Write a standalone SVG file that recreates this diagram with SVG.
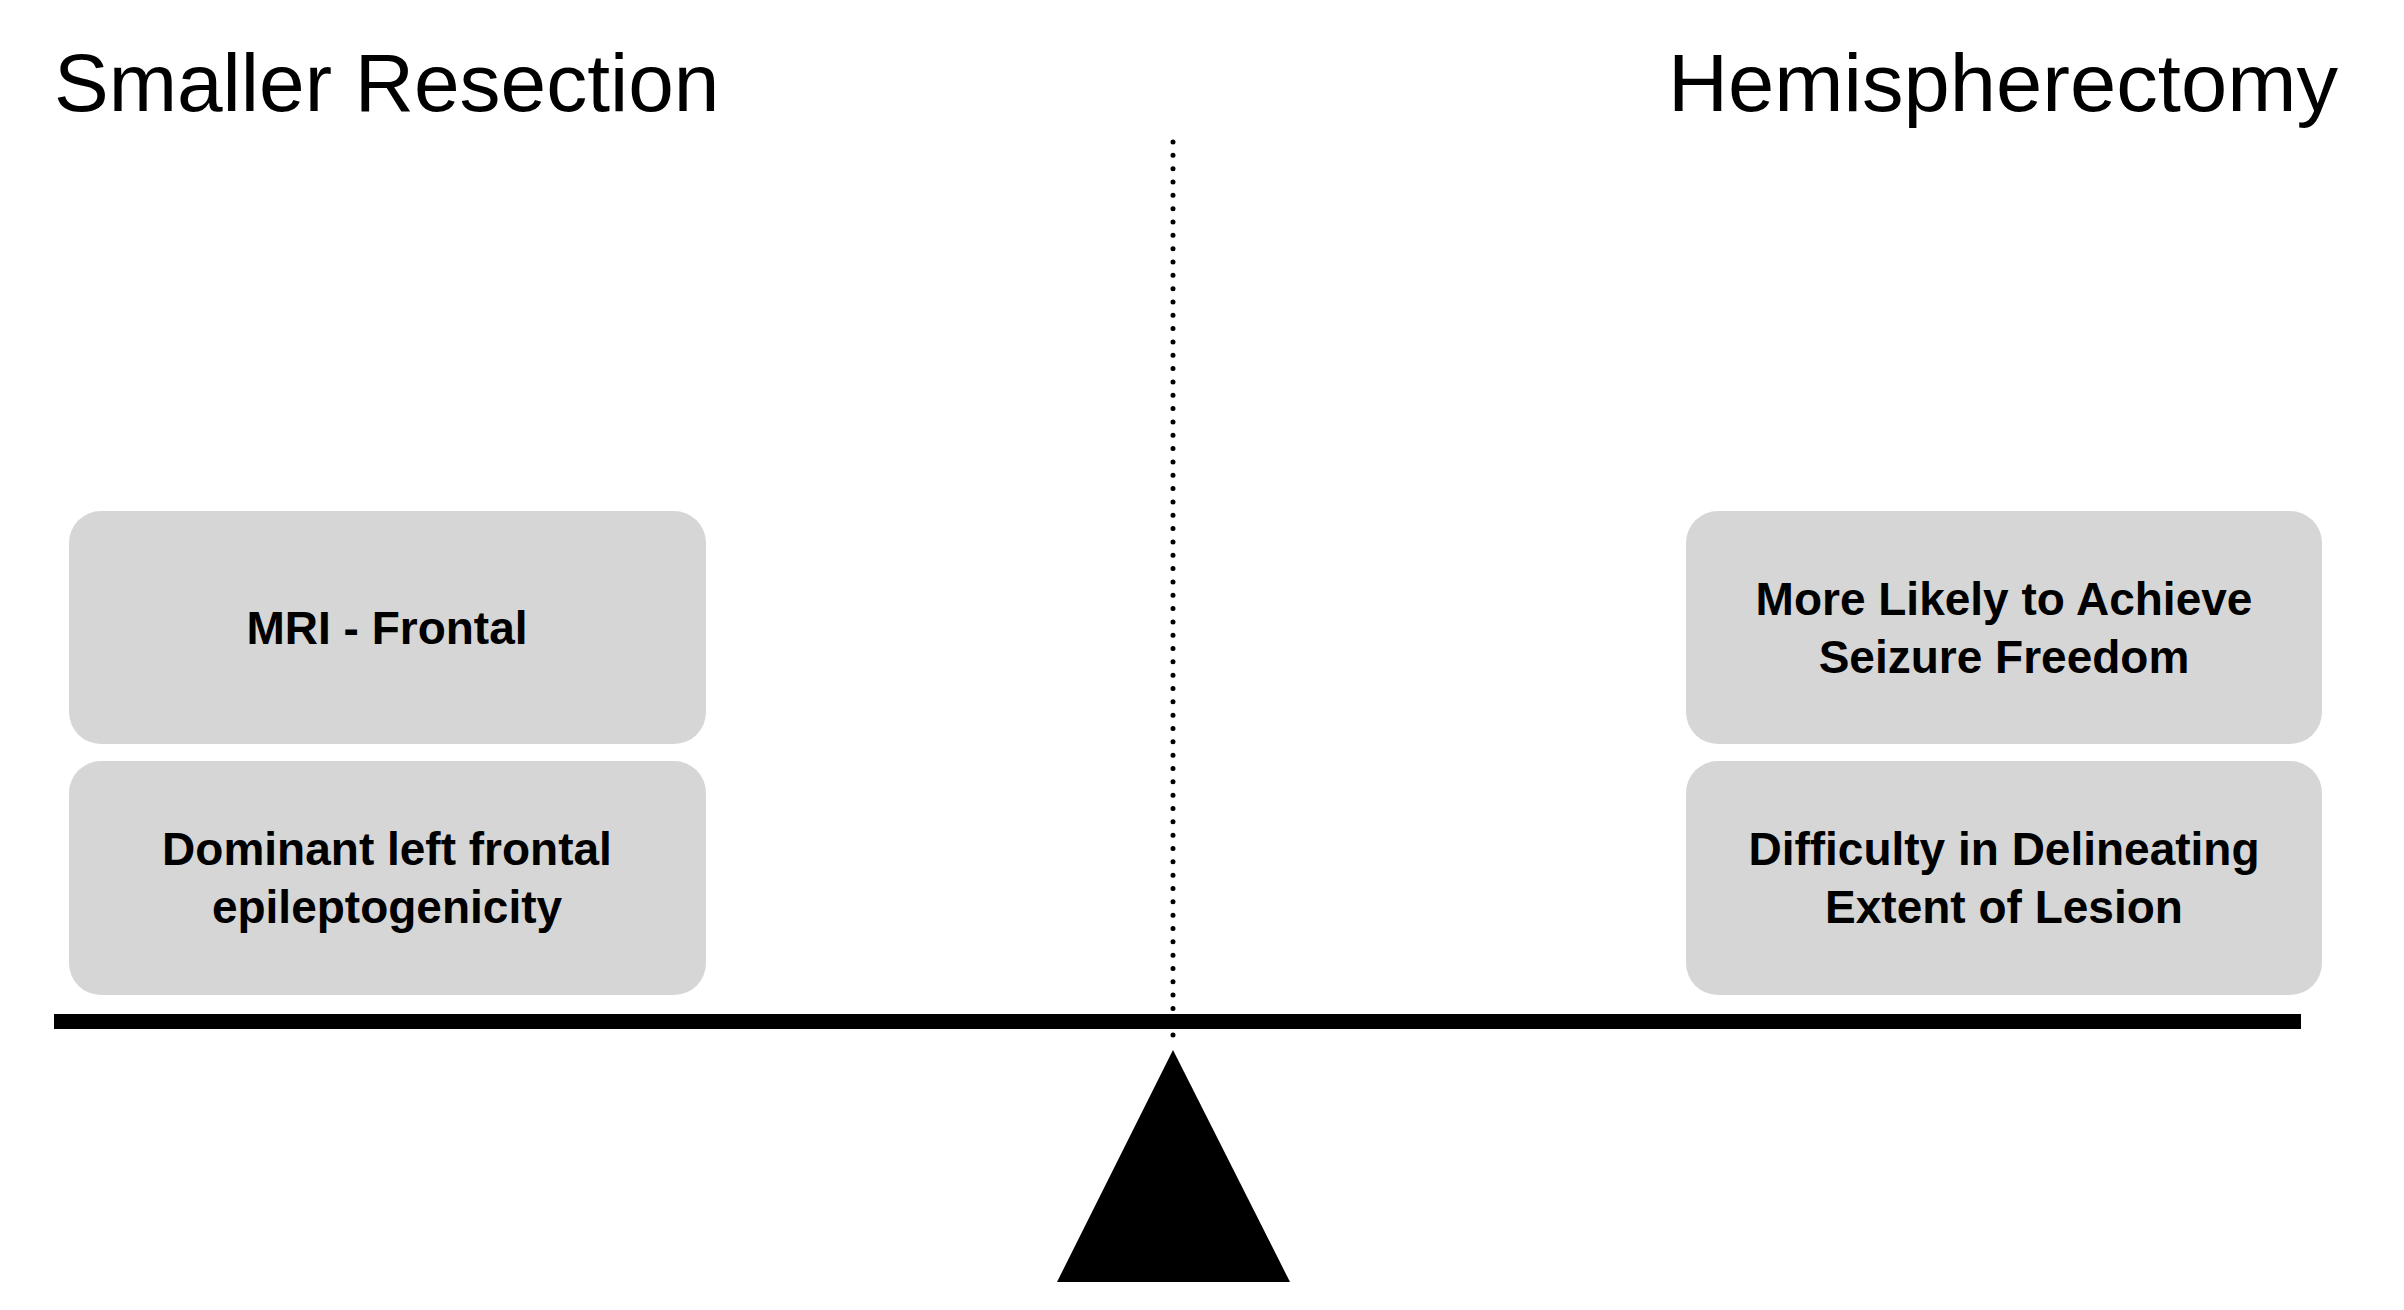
<svg xmlns="http://www.w3.org/2000/svg" width="2404" height="1310" viewBox="0 0 2404 1310">
<style>
.title{font-family:"Liberation Sans",Arial,Helvetica,sans-serif;font-size:82px;fill:#000}
.box{fill:#d6d6d6}
.lbl{font-family:"Liberation Sans",Arial,Helvetica,sans-serif;font-size:46px;font-weight:bold;fill:#000;text-anchor:middle}
</style>
<rect width="2404" height="1310" fill="#fff"/>
<g id="title-left"><text class="title" x="54" y="111">Smaller Resection</text></g>
<g id="title-right"><text class="title" x="1668" y="111" textLength="670" lengthAdjust="spacingAndGlyphs">Hemispherectomy</text></g>
<g id="connectors">
<line x1="1173" y1="142" x2="1173" y2="1048" stroke="#000" stroke-width="5" stroke-linecap="round" stroke-dasharray="0 13.33"/>
<rect x="54" y="1014" width="2247" height="15" fill="#000"/>
<polygon points="1173,1050 1290,1282 1057,1282" fill="#000"/>
</g>
<g id="node-mri">
<rect class="box" x="69" y="511" width="637" height="233" rx="32" ry="32"/>
<text class="lbl" x="387" y="644">MRI - Frontal</text>
</g>
<g id="node-dominant">
<rect class="box" x="69" y="761" width="637" height="234" rx="32" ry="32"/>
<text class="lbl" x="387" y="865">Dominant left frontal</text>
<text class="lbl" x="387" y="923">epileptogenicity</text>
</g>
<g id="node-seizure">
<rect class="box" x="1686" y="511" width="636" height="233" rx="32" ry="32"/>
<text class="lbl" x="2004" y="615">More Likely to Achieve</text>
<text class="lbl" x="2004" y="673">Seizure Freedom</text>
</g>
<g id="node-difficulty">
<rect class="box" x="1686" y="761" width="636" height="234" rx="32" ry="32"/>
<text class="lbl" x="2004" y="865">Difficulty in Delineating</text>
<text class="lbl" x="2004" y="923">Extent of Lesion</text>
</g>
</svg>
